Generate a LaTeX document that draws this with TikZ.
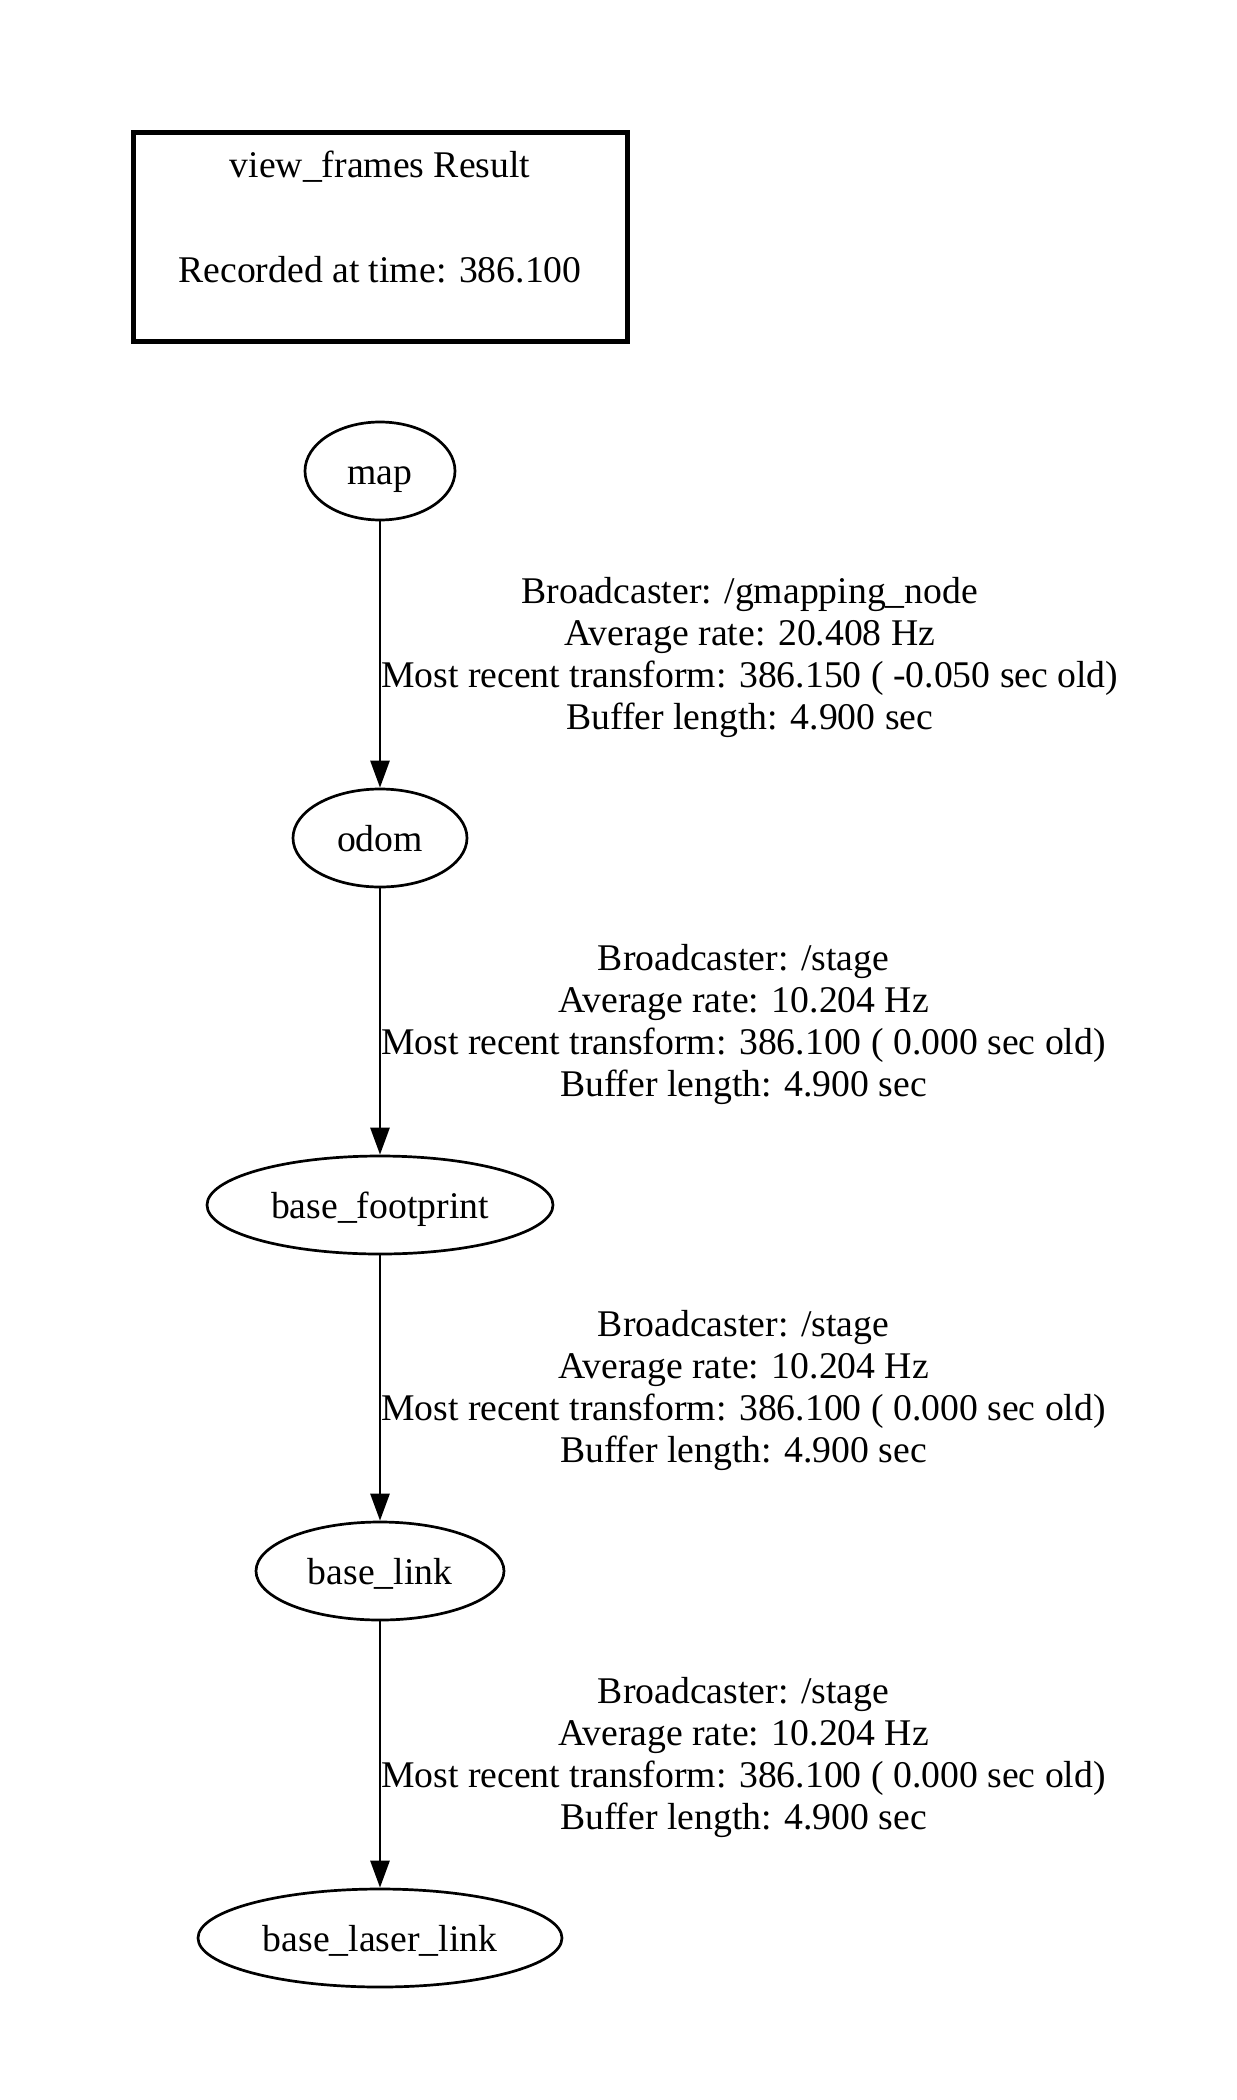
\documentclass[tikz,border=0pt]{standalone}
\usepackage{fontspec}
\setmainfont{Liberation Serif}
\usetikzlibrary{arrows.meta,shapes.geometric}
\tikzset{
  frame/.style={ellipse, draw, line width=2.7pt, minimum height=98pt, inner sep=0pt,
    text height=27.6pt, text depth=0pt,
    font=\fontsize{37.7pt}{41.5pt}\selectfont},
  edge/.style={draw, line width=2.7pt, -{Triangle[length=27pt,width=19pt]}},
  lbl/.style={anchor=west, inner sep=0pt, align=center, font=\fontsize{37.7pt}{42pt}\selectfont},
  titlebox/.style={draw, line width=5pt, minimum width=494pt, minimum height=209pt, align=center,
    font=\fontsize{37.7pt}{41.5pt}\selectfont}
}
\begin{document}
\begin{tikzpicture}[x=1pt,y=-1pt]
\useasboundingbox (0,0) rectangle (1236,2100);
\node[titlebox] (title) at (380,237) {view\_frames Result\\[63.5pt]Recorded at time: 386.100\\\mbox{}};
\node[frame, minimum width=150pt] (map) at (380,471) {map};
\node[frame, minimum width=174pt] (odom) at (380,838) {odom};
\node[frame, minimum width=346pt] (fp) at (380,1205) {base\_footprint};
\node[frame, minimum width=248pt] (bl) at (380,1571) {base\_link};
\node[frame, minimum width=364pt] (bll) at (380,1938) {base\_laser\_link};
\draw[edge] (map) -- (odom);
\draw[edge] (odom) -- (fp);
\draw[edge] (fp) -- (bl);
\draw[edge] (bl) -- (bll);
\node[lbl] (l1) at (381,657.5) {Broadcaster: /gmapping\_node\\Average rate: 20.408 Hz\\Most recent transform: 386.150 ( -0.050 sec old)\\Buffer length: 4.900 sec};
\node[lbl] (l2) at (381,1024) {Broadcaster: /stage\\Average rate: 10.204 Hz\\Most recent transform: 386.100 ( 0.000 sec old)\\Buffer length: 4.900 sec};
\node[lbl] (l3) at (381,1390.5) {Broadcaster: /stage\\Average rate: 10.204 Hz\\Most recent transform: 386.100 ( 0.000 sec old)\\Buffer length: 4.900 sec};
\node[lbl] (l4) at (381,1757.5) {Broadcaster: /stage\\Average rate: 10.204 Hz\\Most recent transform: 386.100 ( 0.000 sec old)\\Buffer length: 4.900 sec};
\end{tikzpicture}
\end{document}
